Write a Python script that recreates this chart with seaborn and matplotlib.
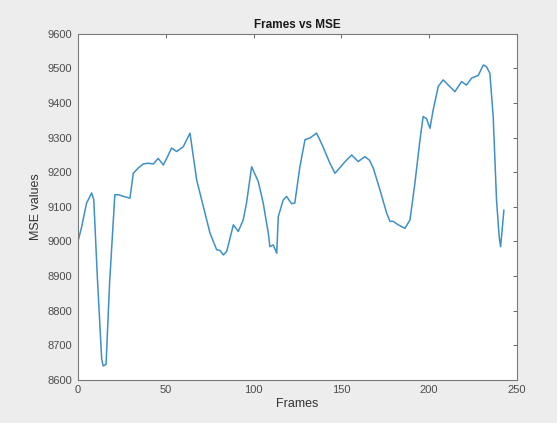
import pandas as pd
import seaborn as sns
import matplotlib.pyplot as plt

# values
frames = [0, 2, 4.9, 7.8, 9, 11, 13.5, 14.4, 16, 18, 21, 23, 26, 29.6, 31.5, 34.3, 37.2,
          40, 42.9, 45.7, 48.6, 51, 53.3, 56.2, 60, 63.8, 67.6, 71.4, 75.2, 79, 80.9,
          82.8, 84.7, 88.5, 91.3, 94.1, 96, 98.9, 102.7, 105.5, 108.4, 109.3, 111.2,
          113.2, 114.1, 116.9, 118.8, 121.7, 123.5, 126.4, 129.3, 132.1, 135.9, 139,
          143.5, 146.4, 149, 152, 155.9, 159.6, 163.4, 166, 168.2, 172, 175.8, 177.7,
          179.6, 182.4, 186.2, 189.1, 191.9, 194.8, 196.6, 198.5, 200.5, 202.3, 205.2,
          208, 210.9, 214.7, 218.5, 221.3, 224.2, 228, 230.9, 232.7, 234.6, 236.5,
          238.4, 239.9, 240.7, 241.6, 242.6]
mse = [9000, 9040, 9111, 9140, 9120, 8900, 8660, 8640, 8645, 8880, 9135, 9135, 9130,
       9125, 9197, 9212, 9224, 9226, 9224, 9240, 9221, 9245, 9270, 9260, 9274, 9313,
       9178, 9101, 9024, 8976, 8974, 8961, 8971, 9048, 9029, 9062, 9111, 9216, 9173,
       9111, 9024, 8985, 8990, 8966, 9072, 9120, 9130, 9109, 9111, 9216, 9294, 9299,
       9313, 9280, 9226, 9197, 9212, 9230, 9250, 9231, 9245, 9235, 9212, 9149, 9082,
       9058, 9058, 9048, 9038, 9062, 9168, 9294, 9361, 9355, 9327, 9380, 9448, 9467,
       9452, 9433, 9462, 9452, 9472, 9480, 9510, 9505, 9486, 9361, 9120, 9014, 8985,
       9034, 9091]

xticks = [0, 50, 100, 150, 200, 250]
yticks = [8600, 8700, 8800, 8900, 9000, 9100, 9200, 9300, 9400, 9500, 9600]

df = pd.DataFrame({"Frames": frames, "MSE": mse})

sns.set_style("white")
plt.rcParams["font.family"] = ["Liberation Sans", "DejaVu Sans"]

fig = plt.figure(figsize=(5.57, 4.23), dpi=100, facecolor="#ededed")
ax = fig.add_axes([0.140, 0.102, 0.788, 0.818])

sns.lineplot(data=df, x="Frames", y="MSE", ax=ax, color="#3f8fc8", linewidth=1.1,
             sort=False, estimator=None)

ax.set_xlim(0, 250)
ax.set_ylim(8600, 9600)
ax.set_xticks(xticks)
ax.set_yticks(yticks)
ax.tick_params(direction="in", length=3, width=0.6, colors="#4d4d4d", labelsize=8,
               top=True, right=True, pad=4)
for side in ax.spines.values():
    side.set_color("#7a7a7a")
    side.set_linewidth(0.8)

ax.set_title("Frames vs MSE", fontsize=8.5, fontweight="bold", color="#1a1a1a", pad=4)
ax.set_xlabel("Frames", fontsize=9, color="#333333", labelpad=2)
ax.set_ylabel("MSE values", fontsize=9, color="#333333", labelpad=4)

fig.savefig("out.png", dpi=100, facecolor=fig.get_facecolor())
